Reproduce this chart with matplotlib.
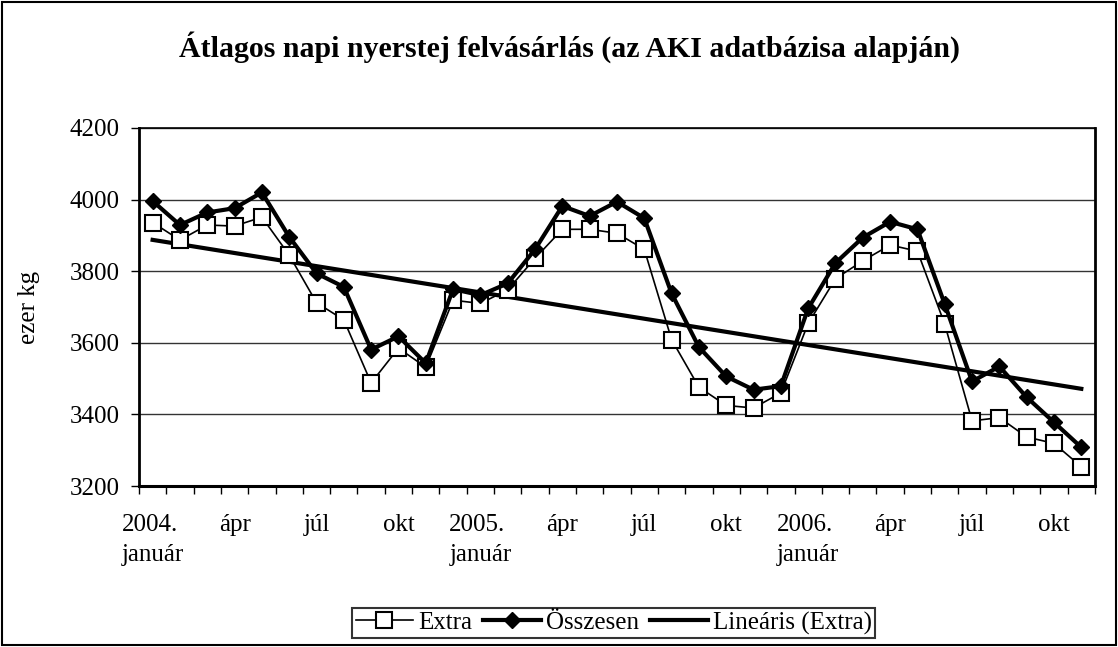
import numpy as np
import matplotlib.pyplot as plt
from matplotlib.patches import Rectangle

plt.rcParams['font.family'] = ['Liberation Serif', 'DejaVu Serif']

honapok = list(range(35))  # 2004. január - 2006. november
extra = [3936, 3887, 3929, 3926, 3951, 3845, 3712, 3664, 3488, 3585, 3532, 3719,
         3710, 3748, 3836, 3917, 3917, 3906, 3861, 3609, 3476, 3425, 3418, 3460,
         3654, 3779, 3829, 3873, 3856, 3652, 3382, 3391, 3337, 3319, 3254]
osszesen = [3996, 3929, 3964, 3976, 4020, 3896, 3794, 3756, 3581, 3618, 3543, 3750,
            3733, 3766, 3861, 3982, 3954, 3994, 3948, 3738, 3588, 3506, 3469, 3479,
            3696, 3823, 3894, 3938, 3917, 3708, 3492, 3534, 3448, 3378, 3308]
cimkek = ['2004.\njanuár', 'ápr', 'júl', 'okt', '2005.\njanuár', 'ápr', 'júl', 'okt',
          '2006.\njanuár', 'ápr', 'júl', 'okt']

x = np.array(honapok)
m, b = np.polyfit(x, extra, 1)
trend = m * x + b

fig = plt.figure(figsize=(11.18, 6.47), dpi=100)
fig.patches.append(Rectangle((0.002, 0.003), 0.996, 0.994, transform=fig.transFigure,
                             fill=False, edgecolor='black', linewidth=1.5))
ax = fig.add_axes([0.1243, 0.2488, 0.8551, 0.5534])

ax.plot(x, extra, color='black', lw=1.2, marker='s', markersize=11,
        markerfacecolor='white', markeredgecolor='black', markeredgewidth=1.5,
        label='Extra', zorder=3)
ax.plot(x, osszesen, color='black', lw=3, marker='D', markersize=8,
        markerfacecolor='black', label='Összesen', zorder=4)
ax.plot(x, trend, color='black', lw=3, label='Lineáris (Extra)', zorder=2)

ax.set_xlim(-0.5, 34.5)
ax.set_ylim(3200, 4200)
ax.set_yticks(range(3200, 4201, 200))
ax.set_xticks(range(0, 35, 3))
ax.set_xticklabels(cimkek, fontsize=18, linespacing=1.5, ha='center',
                   multialignment='left')
ax.set_xticks(np.arange(-0.5, 35, 1), minor=True)
ax.tick_params(axis='x', which='major', length=0, pad=20)
ax.tick_params(axis='x', which='minor', length=6, direction='out', width=1)
ax.tick_params(axis='y', labelsize=18, length=6, width=1, direction='out', pad=8)

ax.grid(axis='y', color='#333333', lw=1)
for s in ax.spines.values():
    s.set_linewidth(1.2)
ax.spines['left'].set_linewidth(2)
ax.spines['bottom'].set_linewidth(2.2)
ax.spines['right'].set_linewidth(2)

ax.set_ylabel('ezer kg', fontsize=18)
ax.yaxis.set_label_coords(-0.103, 0.5)
fig.text(0.509, 0.927, 'Átlagos napi nyerstej felvásárlás (az AKI adatbázisa alapján)',
         ha='center', va='center', fontsize=21.5, fontweight='bold')

leg = fig.legend(loc='center', bbox_to_anchor=(0.5488, 0.037), ncol=3, fontsize=18,
                 frameon=True, fancybox=False, edgecolor='black', handlelength=2.3,
                 handletextpad=0.2, columnspacing=0.45, borderpad=0.15, borderaxespad=0)
leg.get_frame().set_linewidth(1.5)

fig.savefig('out.png', dpi=100)
